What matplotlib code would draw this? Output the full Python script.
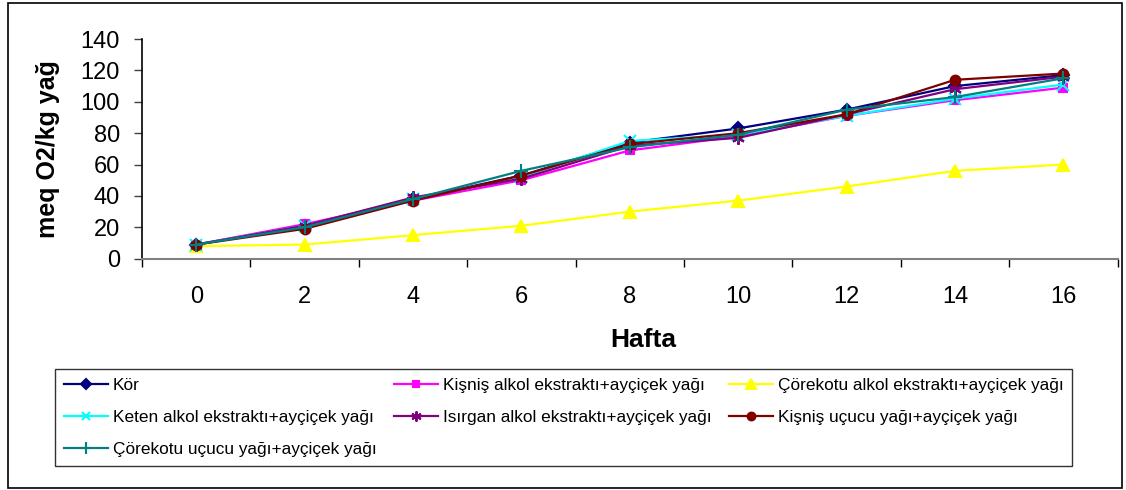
import matplotlib
matplotlib.use("Agg")
import matplotlib.pyplot as plt
from matplotlib.patches import Rectangle

plt.rcParams['font.family'] = ['Liberation Sans', 'DejaVu Sans']

# Haftalık ölçümler (meq O2/kg yağ)
hafta = [0, 2, 4, 6, 8, 10, 12, 14, 16]

kor = [9, 21, 38, 53, 74, 83, 95, 110, 117]
kisnis_alkol = [9, 22, 37, 50, 69, 78, 91, 101, 109]
corekotu_alkol = [8, 9, 15, 21, 30, 37, 46, 56, 60]
keten_alkol = [9, 21, 38, 52, 75, 79, 91, 102, 111]
isirgan_alkol = [9, 21, 39, 51, 72, 77, 92, 108, 116]
kisnis_ucucu = [9, 19, 37, 53, 73, 80, 92, 114, 118]
corekotu_ucucu = [9, 20, 38, 56, 71, 79, 95, 103, 115]

seriler = [
    ("Kör", kor, "#000080", "D", 6),
    ("Kişniş alkol ekstraktı+ayçiçek yağı", kisnis_alkol, "#FF00FF", "s", 6),
    ("Çörekotu alkol ekstraktı+ayçiçek yağı", corekotu_alkol, "#FFFF00", "^", 9),
    ("Keten alkol ekstraktı+ayçiçek yağı", keten_alkol, "#00FFFF", "x", 8),
    ("Isırgan alkol ekstraktı+ayçiçek yağı", isirgan_alkol, "#800080", (6, 2, 0), 9),
    ("Kişniş uçucu yağı+ayçiçek yağı", kisnis_ucucu, "#800000", "o", 7),
    ("Çörekotu uçucu yağı+ayçiçek yağı", corekotu_ucucu, "#008080", "+", 10),
]

W, H = 1126, 490
fig = plt.figure(figsize=(W / 100, H / 100), dpi=100)
ax = fig.add_axes([142 / W, 1 - 258.7 / H, (1117.6 - 142) / W, (258.7 - 39) / H])

xs = list(range(len(hafta)))
handles = []
for ad, y, renk, isaret, boy in seriler:
    h, = ax.plot(xs, y, color=renk, marker=isaret, markersize=boy,
                 markeredgecolor=renk, markerfacecolor=renk,
                 markeredgewidth=1.5, linewidth=1.6, label=ad, clip_on=False)
    handles.append(h)

ax.set_xlim(-0.5, len(hafta) - 0.5)
ax.set_ylim(0, 140)
ax.set_yticks(range(0, 141, 20))

# kategori ekseni: çizgiler kategori aralarında, etiketler ortada
ax.set_xticks([i - 0.5 for i in range(len(hafta) + 1)])
ax.set_xticklabels([])
ax.set_xticks(xs, minor=True)
ax.set_xticklabels([str(h) for h in hafta], minor=True)
ax.tick_params(axis='x', which='major', length=6, width=1, direction='out', color='black')
ax.tick_params(axis='x', which='minor', length=0, pad=20, labelsize=17)
ax.tick_params(axis='y', length=6, width=1, direction='out', pad=10, labelsize=17,
               color='#404040')

for s in ('top', 'right'):
    ax.spines[s].set_visible(False)
ax.spines['bottom'].set_color('#808080')
ax.spines['bottom'].set_linewidth(1.5)
ax.spines['left'].set_color('black')
ax.spines['left'].set_linewidth(1.2)

fig.text(48 / W, 1 - 149 / H, "meq O2/kg yağ", rotation=90, fontsize=18,
         fontweight='bold', ha='center', va='center')
fig.text(643 / W, 1 - 340 / H, "Hafta", fontsize=19, fontweight='bold',
         ha='center', va='center')

# lejant sütun sırası: matplotlib sütunları yukarıdan aşağı doldurur
sira = [0, 3, 6, 1, 4, 2, 5]
leg = fig.legend([handles[i] for i in sira], [seriler[i][0] for i in sira],
                 loc='upper left', bbox_to_anchor=(55 / W, 1 - 369 / H),
                 ncol=3, fontsize=12.4, frameon=True, fancybox=False,
                 edgecolor='black', handlelength=2.6, handletextpad=0.25,
                 columnspacing=1.0, labelspacing=1.0, borderpad=0.5,
                 borderaxespad=0, markerscale=0.8)
leg.get_frame().set_linewidth(1.0)

fig.patches.append(Rectangle((8 / W, 2 / H), 1114 / W, 485 / H,
                             transform=fig.transFigure, fill=False,
                             edgecolor='black', linewidth=1.2))

fig.savefig("out.png", dpi=100)
